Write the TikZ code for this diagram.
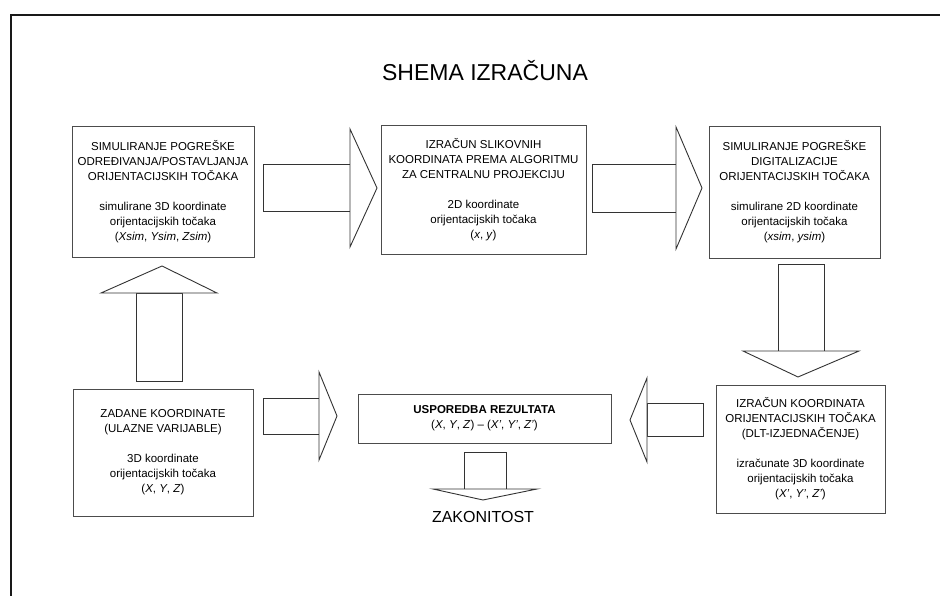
\documentclass[tikz,border=0pt]{standalone}
\usepackage{fontspec}
\setmainfont{Liberation Sans}
\begin{document}
\begin{tikzpicture}[x=1pt,y=-1pt,
  box/.style={draw=black!70,line width=0.9pt,align=center,inner sep=0pt,
    font=\fontsize{11.5}{15}\selectfont},
  barrow/.style={draw=black!80,line width=0.9pt,fill=white,line join=miter},
  frameline/.style={line width=2.6pt,black!90}]
\useasboundingbox (0,0) rectangle (940,596);
% frame
\draw[frameline] (11,596) -- (11,15) -- (940,15);
% title
\node[font=\fontsize{23}{26}\selectfont] (title) at (485,71) {SHEMA IZRAČUNA};
% boxes
\node[box,minimum width=182pt,minimum height=131pt] (b1) at (163,191.5)
 {SIMULIRANJE POGREŠKE\\ ODREĐIVANJA/POSTAVLJANJA\\ ORIJENTACIJSKIH TOČAKA\\[15pt]
  simulirane 3D koordinate\\ orijentacijskih točaka\\ (\textit{Xsim}, \textit{Ysim}, \textit{Zsim})};
\node[box,minimum width=205pt,minimum height=129pt] (b2) at (483.5,189.5)
 {IZRAČUN SLIKOVNIH\\ KOORDINATA PREMA ALGORITMU\\ ZA CENTRALNU PROJEKCIJU\\[15pt]
  2D koordinate\\ orijentacijskih točaka\\ (\textit{x}, \textit{y})};
\node[box,minimum width=171pt,minimum height=132pt] (b3) at (794.5,192)
 {SIMULIRANJE POGREŠKE\\ DIGITALIZACIJE\\ ORIJENTACIJSKIH TOČAKA\\[15pt]
  simulirane 2D koordinate\\ orijentacijskih točaka\\ (\textit{xsim}, \textit{ysim})};
\node[box,minimum width=169pt,minimum height=128pt] (b4) at (800.5,449)
 {IZRAČUN KOORDINATA\\ ORIJENTACIJSKIH TOČAKA\\ (DLT-IZJEDNAČENJE)\\[15pt]
  izračunate 3D koordinate\\ orijentacijskih točaka\\ (\textit{X'}, \textit{Y'}, \textit{Z'})};
\node[box,minimum width=180pt,minimum height=127pt] (b5) at (163,452.5)
 {ZADANE KOORDINATE\\ (ULAZNE VARIJABLE)\\[15pt]
  3D koordinate\\ orijentacijskih točaka\\ (\textit{X}, \textit{Y}, \textit{Z})};
\node[box,minimum width=253pt,minimum height=49pt] (b6) at (484.5,418.5)
 {\textbf{USPOREDBA REZULTATA}\\ (\textit{X}, \textit{Y}, \textit{Z}) – (\textit{X'}, \textit{Y'}, \textit{Z'})};
\node[font=\fontsize{16}{18}\selectfont] (res) at (483,517) {ZAKONITOST};
% block arrows
% b1 -> b2
\draw[barrow] (263,164) rectangle (350,211);
\draw[barrow] (350,129) -- (377,188) -- (350,247) -- cycle;
% b2 -> b3
\draw[barrow] (592,164) rectangle (676,212);
\draw[barrow] (676,127) -- (702,188) -- (676,249) -- cycle;
% b3 -> b4
\draw[barrow] (778,264) rectangle (824,351);
\draw[barrow] (743,351) -- (798,377) -- (859,351) -- cycle;
% b4 -> b6
\draw[barrow] (647,403) rectangle (703,436);
\draw[barrow] (647,378) -- (630,420) -- (647,462) -- cycle;
% b5 -> b6
\draw[barrow] (263,398) rectangle (319,434);
\draw[barrow] (319,372) -- (337,416) -- (319,460) -- cycle;
% b5 -> b1
\draw[barrow] (136,293) rectangle (182,381);
\draw[barrow] (101,293) -- (162,266) -- (217,293) -- cycle;
% b6 -> res
\draw[barrow] (464,452) rectangle (506,489);
\draw[barrow] (433,489) -- (483,500) -- (537,489) -- cycle;
\end{tikzpicture}
\end{document}
